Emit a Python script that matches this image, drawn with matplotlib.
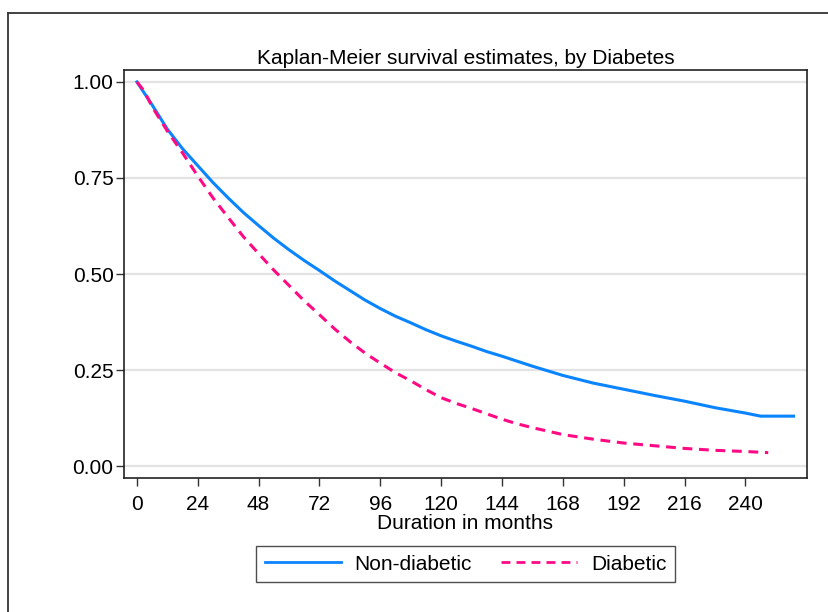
import matplotlib
matplotlib.use("Agg")
import matplotlib.pyplot as plt
from matplotlib.lines import Line2D

plt.rcParams['font.family'] = ['Liberation Sans', 'DejaVu Sans']

# survival estimates read at selected months
months_nd = [0, 6, 12, 18, 24, 30, 36, 42, 48, 54, 60, 66, 72, 78, 84, 90, 96,
             102, 108, 114, 120, 126, 132, 138, 144, 156, 168, 180, 192, 204,
             216, 228, 240, 246, 259]
surv_nd = [1.00, 0.94, 0.877, 0.826, 0.782, 0.738, 0.698, 0.660, 0.626, 0.593,
           0.563, 0.535, 0.509, 0.482, 0.457, 0.432, 0.410, 0.390, 0.373,
           0.355, 0.339, 0.325, 0.312, 0.298, 0.286, 0.260, 0.236, 0.216,
           0.200, 0.184, 0.169, 0.152, 0.138, 0.130, 0.130]

months_d = [0, 3, 6, 12, 18, 24, 30, 36, 42, 48, 54, 60, 66, 72, 78, 84, 90,
            96, 102, 108, 114, 120, 126, 132, 138, 144, 150, 156, 168, 180,
            192, 204, 216, 228, 240, 249]
surv_d = [1.00, 0.975, 0.935, 0.872, 0.815, 0.755, 0.698, 0.647, 0.597, 0.553,
          0.510, 0.470, 0.430, 0.394, 0.357, 0.324, 0.294, 0.268, 0.243,
          0.222, 0.199, 0.178, 0.163, 0.150, 0.136, 0.122, 0.110, 0.100,
          0.082, 0.070, 0.060, 0.053, 0.046, 0.041, 0.038, 0.035]

x_ticks = list(range(0, 241, 24))
y_ticks = [0.00, 0.25, 0.50, 0.75, 1.00]

blue = '#0a84ff'
pink = '#ff0a84'
fs = 15

fig = plt.figure(figsize=(8.29, 6.12), dpi=100)
ax = fig.add_axes([124 / 829, 1 - 478 / 612, (807 - 124) / 829, (478 - 70) / 612])

for y in y_ticks:
    ax.axhline(y, color='#e3e3e3', lw=1.6, zorder=0)

ax.plot(months_nd, surv_nd, color=blue, lw=2.2, label='Non-diabetic',
        solid_joinstyle='round')
ax.plot(months_d, surv_d, color=pink, lw=2.2, ls=(0, (3.2, 2.2)),
        label='Diabetic')

ax.set_xlim(-5.1, 264.3)
ax.set_ylim(-0.031, 1.031)
ax.set_xticks(x_ticks)
ax.set_yticks(y_ticks)
ax.set_yticklabels([f'{v:.2f}' for v in y_ticks])
ax.tick_params(axis='both', labelsize=fs, length=5.5, width=1, color='#333333',
               direction='out')
ax.tick_params(axis='x', pad=6.5)
ax.tick_params(axis='y', pad=2)
for s in ax.spines.values():
    s.set_color('#222222')
    s.set_linewidth(1.2)

ax.set_xlabel('Duration in months', fontsize=fs, labelpad=0.3)
ax.set_title('Kaplan-Meier survival estimates, by Diabetes', fontsize=fs, pad=4)

handles = [Line2D([], [], color=blue, lw=2.0),
           Line2D([], [], color=pink, lw=2.0, ls=(0, (3.2, 2.2)))]
leg = fig.legend(handles, ['Non-diabetic', 'Diabetic'], loc='center',
                 bbox_to_anchor=(465.5 / 829, 1 - 564 / 612), ncol=2,
                 fontsize=fs, frameon=True, fancybox=False, handlelength=3.65,
                 columnspacing=1.4, handletextpad=0.67, borderpad=0.42,
                 borderaxespad=0)
leg.get_frame().set_edgecolor('#222222')
leg.get_frame().set_linewidth(1.0)

# outer border running off the right and bottom edges
x0 = 8 / 829
y0 = 1 - 13 / 612
fig.add_artist(Line2D([x0, 1.01], [y0, y0], transform=fig.transFigure,
                      color='#333333', lw=1.3))
fig.add_artist(Line2D([x0, x0], [-0.01, y0], transform=fig.transFigure,
                      color='#333333', lw=1.3))

fig.savefig('out.png', dpi=100)
